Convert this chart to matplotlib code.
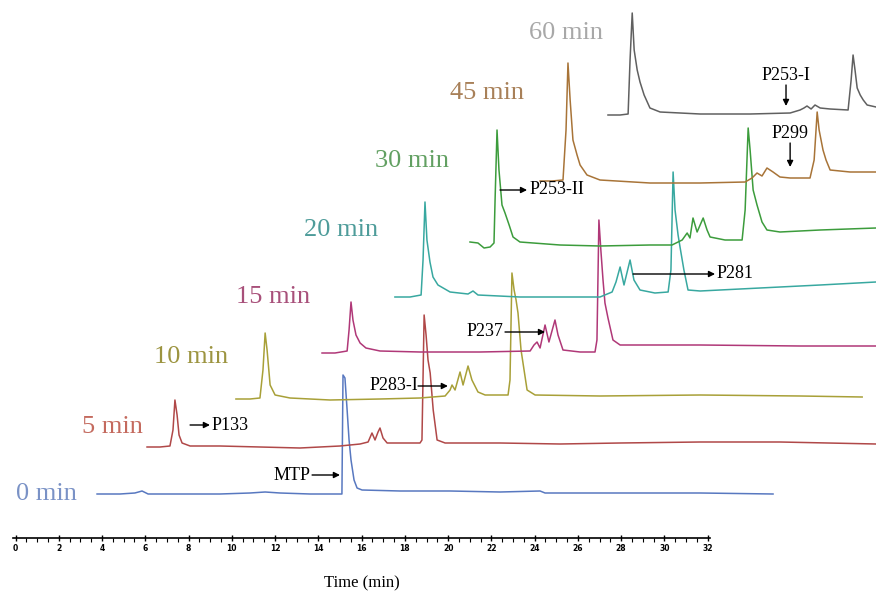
"""
Stacked HPLC chromatograms of MTP degradation (0 - 60 min)
"""

from matplotlib import pyplot as plt
from matplotlib.ticker import FixedLocator

# retention time on drawn axis (min) and signal above each trace's baseline
t_0 = [3.77, 4.83, 5.52, 5.85, 6.13, 7.61, 9.45, 10.84, 11.54, 12.23, 13.62, 15.00,
       15.09, 15.14, 15.23, 15.33, 15.42, 15.51, 15.65, 15.79, 16.02, 17.78, 20.09,
       22.40, 24.25, 24.48, 27.02, 29.33, 31.65, 35.02]
s_0 = [0, 0, 1, 3, 0, 0, 0, 1, 2, 1, 0, 0,
       0, 119, 116, 84, 54, 34, 14, 6, 4, 3, 3,
       2, 3, 1, 1, 1, 1, 0]

t_5 = [6.08, 6.68, 7.14, 7.28, 7.37, 7.47, 7.56, 7.70, 8.07, 9.45, 11.30, 13.15,
       15.00, 15.93, 16.30, 16.48, 16.62, 16.76, 16.85, 16.99, 17.18, 17.78, 18.70,
       18.79, 18.89, 18.98, 19.07, 19.17, 19.31, 19.49, 19.86, 22.40, 25.17, 27.95,
       31.65, 35.34, 39.78]
s_5 = [0, 0, 1, 17, 47, 32, 12, 4, 1, 1, 0, -1,
       1, 3, 5, 14, 7, 15, 19, 9, 4, 4, 4,
       7, 132, 112, 87, 74, 37, 7, 4, 4, 3, 4,
       5, 5, 3]

t_10 = [10.19, 10.84, 11.30, 11.44, 11.54, 11.63, 11.77, 12.00, 12.69, 14.54, 16.85,
        18.70, 19.86, 20.09, 20.18, 20.32, 20.55, 20.69, 20.92, 21.10, 21.38, 21.71,
        22.77, 22.86, 22.95, 23.05, 23.14, 23.23, 23.37, 23.65, 24.02, 27.02, 31.65,
        36.27, 39.14]
s_10 = [0, 0, 1, 29, 66, 49, 14, 4, 1, -1, 0,
        1, 3, 9, 14, 9, 27, 14, 33, 19, 7, 4,
        4, 19, 126, 109, 99, 86, 49, 9, 4, 3, 4,
        3, 2]

t_15 = [14.17, 14.77, 15.33, 15.42, 15.51, 15.60, 15.74, 15.93, 16.20, 16.85, 18.70,
        21.47, 23.79, 23.97, 24.11, 24.25, 24.48, 24.66, 24.94, 25.08, 25.31, 26.10,
        26.79, 26.88, 26.97, 27.06, 27.16, 27.25, 27.39, 27.62, 27.95, 31.65, 36.27,
        39.78]
s_15 = [0, 0, 2, 23, 51, 33, 18, 10, 5, 2, 1,
        1, 2, 8, 11, 5, 28, 11, 33, 18, 3, 1,
        1, 13, 133, 103, 73, 50, 35, 13, 8, 8, 7,
        7]

t_20 = [17.54, 18.24, 18.75, 18.84, 18.93, 19.02, 19.16, 19.30, 19.53, 20.09, 20.92,
        21.15, 21.38, 23.32, 25.17, 27.02, 27.58, 27.76, 27.95, 28.13, 28.41, 28.59,
        28.87, 29.56, 30.17, 30.30, 30.40, 30.49, 30.63, 30.72, 30.90, 31.09, 31.65,
        34.42, 37.20, 39.78]
s_20 = [0, 0, 2, 37, 95, 57, 35, 20, 12, 5, 3,
        6, 2, 0, 0, 0, 5, 15, 30, 12, 37, 17,
        7, 4, 5, 27, 125, 87, 62, 50, 27, 7, 6,
        9, 12, 15]

t_30 = [21.01, 21.38, 21.66, 21.94, 22.12, 22.17, 22.26, 22.35, 22.49, 22.63, 22.82,
        23.00, 23.32, 25.17, 27.02, 29.33, 30.35, 30.82, 31.05, 31.18, 31.32, 31.51,
        31.79, 31.97, 32.11, 32.80, 33.59, 33.73, 33.87, 33.96, 34.10, 34.28, 34.51,
        34.74, 35.34, 37.20, 39.78]
s_30 = [2, 1, -4, -3, 1, 44, 114, 74, 39, 31, 19,
        7, 2, -1, -2, -1, -1, 4, 11, 6, 26, 12,
        26, 14, 7, 4, 4, 34, 116, 94, 54, 39, 22,
        14, 12, 14, 16]

t_45 = [24.25, 24.80, 25.31, 25.45, 25.54, 25.64, 25.77, 25.96, 26.10, 26.42, 27.02,
        29.33, 31.65, 33.73, 34.05, 34.28, 34.51, 34.74, 35.02, 35.34, 35.81, 36.73,
        36.92, 37.06, 37.15, 37.33, 37.47, 37.66, 38.58, 39.78]
s_45 = [1, 1, 2, 52, 119, 82, 42, 27, 17, 7, 2,
        -1, -1, 0, 4, 9, 6, 14, 10, 5, 4, 4,
        22, 70, 52, 32, 22, 12, 10, 10]

t_60 = [27.39, 27.95, 28.32, 28.41, 28.51, 28.60, 28.74, 28.87, 29.06, 29.33, 29.80,
        31.65, 33.96, 35.81, 36.27, 36.45, 36.59, 36.78, 36.96, 37.20, 37.66, 38.49,
        38.63, 38.72, 38.81, 38.91, 39.05, 39.19, 39.37, 39.78]
s_60 = [-1, -1, 0, 54, 101, 64, 44, 32, 19, 6, 2,
        0, 0, 1, 4, 6, 8, 5, 9, 6, 5, 4,
        34, 59, 44, 26, 19, 14, 9, 7]

labels = ["0 min", "5 min", "10 min", "15 min", "20 min", "30 min", "45 min", "60 min"]
times = [t_0, t_5, t_10, t_15, t_20, t_30, t_45, t_60]
signals = [s_0, s_5, s_10, s_15, s_20, s_30, s_45, s_60]

# vertical stacking of the traces
baselines = [48, 95, 143, 189, 245, 298, 360, 428]

line_colors = ["#5878c0", "#b04848", "#a8a038", "#b03878",
               "#38a8a0", "#3c9c3c", "#a87438", "#606060"]
label_colors = ["#7a92c6", "#c46a5e", "#9c9440", "#a8507a",
                "#4e9c9a", "#62a062", "#a88058", "#a8a8a8"]
label_pos = [(2.85, 48), (5.89, 115), (9.82, 185), (13.62, 245),
             (16.76, 312), (20.04, 381), (23.51, 449), (27.16, 509)]

SERIF = "Liberation Serif"


def arrow(ax, tail, head):
    ax.annotate("", xy=head, xytext=tail,
                arrowprops=dict(arrowstyle="-|>", color="black", lw=1.0,
                                mutation_scale=9, shrinkA=0, shrinkB=0))


def main():
    fig = plt.figure(figsize=(8.76, 5.96), dpi=100)
    ax = fig.add_axes([0, 0, 1, 1])
    ax.set_xlim(-0.717, 39.78)
    ax.set_ylim(-54, 542)

    for t, s, base, col in zip(times, signals, baselines, line_colors):
        ax.plot(t, [v + base for v in s], color=col, lw=1.1)

    for text, (x, y), col in zip(labels, label_pos, label_colors):
        ax.text(x, y, text, ha="right", va="center", color=col,
                fontsize=19, family=SERIF)

    # peak annotations
    fs = 13
    arrow(ax, (8.07, 117), (8.99, 117))
    ax.text(9.08, 117, "P133", ha="left", va="center", fontsize=fs, family=SERIF)
    arrow(ax, (13.71, 67), (15.0, 67))
    ax.text(13.62, 67, "MTP", ha="right", va="center", fontsize=fs, family=SERIF)
    arrow(ax, (18.61, 156), (19.99, 156))
    ax.text(18.61, 156, "P283-I", ha="right", va="center", fontsize=fs, family=SERIF)
    arrow(ax, (22.63, 210), (24.48, 210))
    ax.text(22.54, 210, "P237", ha="right", va="center", fontsize=fs, family=SERIF)
    arrow(ax, (28.55, 268), (32.34, 268))
    ax.text(32.43, 268, "P281", ha="left", va="center", fontsize=fs, family=SERIF)
    arrow(ax, (22.40, 352), (23.65, 352))
    ax.text(23.74, 352, "P253-II", ha="left", va="center", fontsize=fs, family=SERIF)
    arrow(ax, (35.81, 399), (35.81, 375))
    ax.text(35.81, 409, "P299", ha="center", va="center", fontsize=fs, family=SERIF)
    arrow(ax, (35.62, 457), (35.62, 436))
    ax.text(35.62, 467, "P253-I", ha="center", va="center", fontsize=fs, family=SERIF)

    # time axis, 0 - 32 min only
    for side in ["top", "left", "right"]:
        ax.spines[side].set_visible(False)
    ax.spines["bottom"].set_position(("data", 4))
    ax.spines["bottom"].set_bounds(-0.1, 32.1)
    ax.spines["bottom"].set_linewidth(1.2)
    ax.set_yticks([])
    ax.xaxis.set_major_locator(FixedLocator(list(range(0, 33, 2))))
    ax.xaxis.set_minor_locator(FixedLocator([k * 0.5 for k in range(65)]))
    ax.tick_params(axis="x", which="major", direction="inout", length=5,
                   width=1.0, labelsize=5.5, pad=2)
    ax.tick_params(axis="x", which="minor", direction="out", length=3, width=0.8)
    for lbl in ax.get_xticklabels():
        lbl.set_fontweight("bold")
    ax.text(16, -41, "Time (min)", ha="center", va="center", fontsize=12,
            family=SERIF)

    fig.savefig("out.png", dpi=100)


if __name__ == "__main__":
    main()
